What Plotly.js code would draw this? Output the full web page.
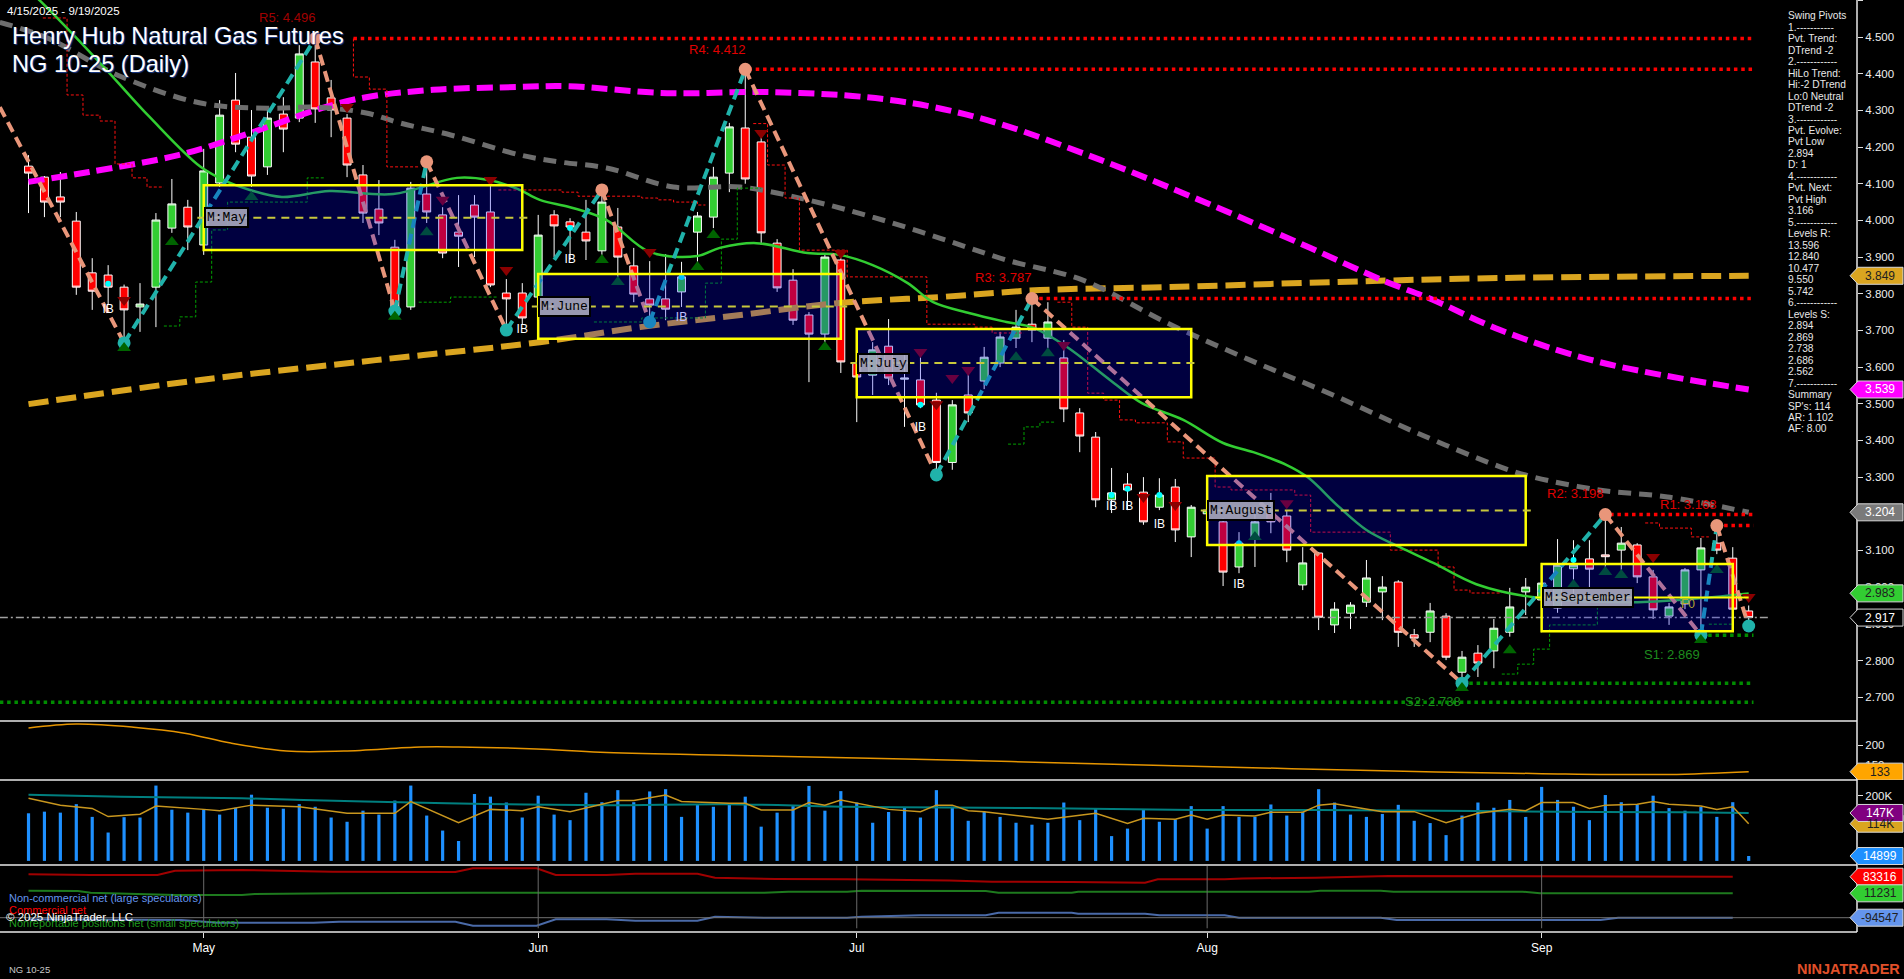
<!DOCTYPE html>
<html><head><meta charset="utf-8">
<script src="https://cdn.plot.ly/plotly-3.0.1.min.js"></script>
<style>html,body{margin:0;padding:0;background:#000;overflow:hidden}#chart{width:1904px;height:979px}</style>
</head><body><div id="chart"></div>
<script>
// ---------------- DATA ----------------
const monthTickIdx = [11, 32, 52, 74, 95];
const monthTickText = ['May', 'Jun', 'Jul', 'Aug', 'Sep'];

const openP = [4.148,4.118,4.064,3.998,3.857,3.851,3.818,3.764,3.818,3.979,
4.036,3.933,4.102,4.328,4.227,4.146,4.290,4.279,4.432,4.334,
4.279,4.124,4.031,3.927,3.764,4.072,4.015,3.968,4.042,4.023,
3.802,3.802,3.791,4.015,3.996,3.968,3.917,3.982,3.876,3.786,
3.786,3.805,3.968,4.009,4.129,4.252,4.214,3.938,3.837,3.742,
3.690,3.892,3.611,3.578,3.657,3.567,3.565,3.510,3.340,3.524,
3.562,3.611,3.679,3.717,3.679,3.625,3.475,3.409,3.238,3.281,
3.259,3.218,3.273,3.137,3.200,3.178,3.055,3.137,3.202,3.194,
3.006,3.093,2.897,2.929,2.959,2.987,3.014,2.870,2.877,2.921,
2.768,2.820,2.826,2.877,2.987,2.965,2.943,3.050,3.077,3.088,
3.101,3.115,3.028,2.921,2.954,3.047,3.120,3.079,2.935];
const highP = [4.178,4.121,4.132,4.023,3.897,3.878,3.825,3.829,4.020,4.113,
4.056,4.195,4.328,4.402,4.301,4.309,4.336,4.478,4.496,4.383,
4.290,4.151,4.110,3.947,4.105,4.160,4.036,4.069,4.069,4.118,
3.840,3.829,4.015,4.028,4.006,4.056,4.083,4.034,3.925,3.889,
3.908,3.887,4.023,4.146,4.266,4.412,4.227,3.949,3.867,3.750,
3.908,3.911,3.655,3.668,3.731,3.638,3.627,3.530,3.510,3.600,
3.655,3.696,3.756,3.787,3.777,3.674,3.488,3.423,3.325,3.311,
3.300,3.297,3.295,3.224,3.240,3.188,3.150,3.202,3.257,3.210,
3.109,3.096,2.959,2.959,3.074,3.030,3.019,2.886,2.957,2.929,
2.826,2.842,2.913,2.998,3.025,3.066,3.131,3.128,3.128,3.198,
3.164,3.120,3.047,2.957,3.052,3.134,3.168,3.109,2.950];
const lowP = [4.020,4.009,4.009,3.797,3.756,3.769,3.670,3.696,3.709,3.966,
3.919,3.906,4.091,4.186,4.091,4.124,4.186,4.268,4.266,4.227,
4.118,3.993,3.960,3.753,3.756,3.993,3.897,3.873,3.900,3.818,
3.701,3.715,3.769,3.900,3.892,3.892,3.906,3.846,3.777,3.723,
3.728,3.764,3.873,3.979,4.077,4.100,3.933,3.805,3.715,3.559,
3.655,3.584,3.450,3.524,3.551,3.437,3.488,3.306,3.320,3.450,
3.540,3.600,3.652,3.668,3.652,3.450,3.368,3.218,3.202,3.210,
3.170,3.210,3.123,3.082,3.170,3.003,3.038,3.055,3.147,3.068,
2.992,2.883,2.875,2.886,2.946,2.910,2.837,2.837,2.850,2.801,
2.738,2.755,2.779,2.865,2.924,2.877,2.930,2.970,3.000,3.047,
3.047,3.011,2.913,2.897,2.940,2.869,3.090,2.920,2.894];
const closeP = [4.129,4.050,4.050,3.818,3.807,3.818,3.756,3.772,4.001,4.045,
3.982,4.135,4.287,4.208,4.121,4.279,4.249,4.454,4.304,4.301,
4.151,4.020,3.993,3.764,4.088,4.023,3.911,3.957,4.009,3.824,
3.786,3.734,3.960,3.985,3.982,3.944,4.050,3.900,3.799,3.769,
3.758,3.846,4.012,4.118,4.255,4.113,3.966,3.816,3.728,3.690,
3.900,3.614,3.573,3.647,3.570,3.570,3.497,3.340,3.497,3.475,
3.627,3.682,3.709,3.701,3.723,3.486,3.412,3.238,3.257,3.265,
3.178,3.251,3.156,3.218,3.210,3.041,3.120,3.178,3.178,3.101,
3.066,2.918,2.940,2.951,3.025,3.000,2.877,2.861,2.935,2.809,
2.809,2.793,2.888,2.946,3.000,3.011,3.060,3.060,3.049,3.083,
3.120,3.028,2.938,2.946,3.047,3.107,3.101,2.940,2.917];

const volume = [146000,151000,148000,174000,135000,87000,134000,133000,231000,157000,
148000,158000,142000,163000,203000,163000,160000,174000,166000,133000,
120000,154000,142000,185000,231000,139000,93000,61000,205000,197000,
179000,133000,200000,142000,125000,209000,180000,217000,180000,213000,
220000,135000,172000,166000,176000,197000,105000,148000,168000,230000,
154000,214000,179000,117000,150000,164000,133000,217000,166000,123000,
151000,135000,117000,111000,117000,179000,125000,159000,76000,99000,
156000,120000,127000,168000,99000,168000,135000,135000,173000,139000,
151000,220000,179000,142000,135000,144000,172000,123000,116000,79000,
139000,179000,163000,187000,135000,227000,187000,166000,125000,202000,
180000,173000,200000,162000,154000,166000,135000,180000,14899];

// moving averages (bar index, price)
const maGreenIdx = [-1.8,0.7,4.5,7.6,10.8,12.5,13.9,15.9,18.9,22.9,26.9,28.9,30.7,32.1,34,36.3,39,42,43.4,45.7,48.9,50.9,53,55.2,56.8,59.1,61.4,63.1,65.2,67.9,69.9,72.5,75,76.9,79,80.3,82.3,84,86.1,88.2,90.9,94.4,100.7,104.9,108];
const maGreenVal = [4.70,4.60,4.429,4.282,4.146,4.105,4.083,4.064,4.080,4.072,4.116,4.110,4.086,4.056,4.036,4.001,3.914,3.903,3.925,3.938,3.911,3.906,3.878,3.829,3.777,3.747,3.723,3.707,3.655,3.565,3.502,3.456,3.393,3.368,3.333,3.300,3.218,3.156,3.109,3.066,3.008,2.973,2.959,2.970,2.983];
const maGrayIdx = [-1.8,1.2,5.6,10.8,15.0,18.1,21.2,23.3,26.5,30.9,33.4,36.3,40.5,44.7,48.9,53.0,57.2,61.4,66.2,71.5,76.7,81.9,87.2,92.4,94.5,98.6,102.9,108];
const maGrayVal = [4.54,4.497,4.396,4.320,4.306,4.309,4.293,4.266,4.233,4.178,4.159,4.143,4.091,4.091,4.056,4.009,3.952,3.892,3.837,3.720,3.619,3.524,3.420,3.328,3.300,3.265,3.246,3.204];
const maMagentaIdx = [0,3.8,9.4,13.9,18.4,21.2,25.4,30.9,33.8,40.1,46.4,52.6,56.8,61.0,67.3,73.5,79.8,85.0,88.2,92.4,98.6,108];
const maMagentaVal = [4.105,4.132,4.178,4.238,4.306,4.336,4.356,4.364,4.366,4.347,4.350,4.336,4.309,4.263,4.165,4.056,3.938,3.837,3.783,3.701,3.614,3.539];
const maOrangeIdx = [0,10.8,21.8,32.1,38.4,44.7,50.9,57.2,63.5,71.5,82,92.4,108];
const maOrangeVal = [3.499,3.565,3.619,3.668,3.709,3.742,3.775,3.791,3.810,3.818,3.832,3.843,3.849];

// swing pivots
const swingIdx = [-1.8,6,18,23,25,30,36,39,45,57,63,90,99,105,106,108];
const swingVal = [4.309,3.666,4.496,3.753,4.160,3.701,4.083,3.723,4.412,3.306,3.787,2.738,3.198,2.869,3.168,2.894];

// pivot levels
const levelName = ['R5','R4','R3','R2','R1','S1','S2','S3'];
const levelVal  = [4.496,4.412,3.787,3.198,3.168,2.869,2.738,2.686];
const levelFrom = [20.4,45.2,63,99.3,106,105,90,-1.8];

// monthly ranges
const boxName  = ['M:May','M:June','M:July','M:August','M:September'];
const boxStart = [11,32,52,74,95];
const boxEnd   = [31,51,73,94,107];
const boxHigh  = [4.096,3.854,3.704,3.303,3.063];
const boxLow   = [3.919,3.677,3.518,3.115,2.880];

// trailing stair lines
const redStairs = [
  {i:[0.9,2.42,3.42,4.49,5.43,6.5,7.44,8.5], v:[4.552,4.342,4.287,4.271,4.154,4.116,4.091,4.091]},
  {i:[20.4,20.4,21.4,22.5,24.6], v:[4.496,4.391,4.358,4.146,4.146]},
  {i:[29.5,33.5,34.5,38.5,39.5,40.5,42,42.5], v:[4.083,4.077,4.066,4.061,4.056,4.050,4.042,4.042]},
  {i:[45.5,46.4,47.5,48.4,51.4,56.4,59.4,60.5,62.5], v:[4.264,4.151,4.061,3.919,3.846,3.717,3.709,3.693,3.693]},
  {i:[64.6,65.5,66.5,67.5,68.5,69.5,71.5,72.5,74.5,75.5,79.5,80.5,85.5,88.5,89.5,90.5,92.5], v:[3.777,3.709,3.529,3.510,3.456,3.448,3.396,3.352,3.273,3.265,3.251,3.150,3.101,3.055,2.992,2.984,2.984]},
  {i:[101.5,102.4,104.4,105.5], v:[3.175,3.161,3.137,3.137]}
];
const greenStairs = [
  {i:[8.5,9.5,10.5,11.5,12.5,17.5,18.6], v:[3.712,3.737,3.832,3.974,4.050,4.116,4.116]},
  {i:[24.5,26.5,29.4], v:[3.777,3.791,3.791]},
  {i:[35.5,38.5,42.5,43.5,44.5,46], v:[3.723,3.734,3.829,3.949,4.088,4.088]},
  {i:[61.5,62.5,63.5,64.5], v:[3.390,3.437,3.450,3.450]},
  {i:[92.5,93.5,94.5,95.5,98.5,100.5], v:[2.763,2.790,2.831,2.897,2.946,2.954]},
  {i:[105.5,107], v:[2.899,2.899]}
];

// signal markers
const upTriIdx = [6,9,14,23,25,36,37,42,43,50,62,64,77,90,93,97,99,100,105,106];
const upTriVal = [3.652,3.941,4.064,3.737,3.968,3.892,3.832,3.873,3.960,3.655,3.627,3.638,3.137,2.725,2.828,3.006,3.041,3.033,2.856,3.047];
const dnTriIdx = [6,20,26,29,30,39,46,51,56,57,58,59,65,70,72,79,102,108];
const dnTriVal = [3.783,4.309,4.056,4.110,3.865,3.914,4.238,3.911,3.641,3.499,3.570,3.592,3.660,3.246,3.224,3.229,3.082,2.973];
const cyanIdx = [5,34,41,56,68,69,71,76,97];
const cyanVal = [3.827,3.979,3.846,3.497,3.251,3.268,3.251,3.120,3.074];
const ibIdx = [5,31,34,41,56,68,69,71,76];
const ibVal = [3.756,3.701,3.892,3.734,3.434,3.218,3.218,3.169,3.006];

// sub panel 1 (orange line)
const sub1Idx = [0,3,6.6,9.8,12.7,16.2,19.8,24.6,27,31.9,35.9,43,55,65,75,85,95,103,108];
const sub1Val = [243,253,245,230,205,185,185,195,195,190,182,175,165,155,145,135,128,126,133];

// volume panel lines
const volTealIdx = [0,5.8,13.4,21.1,28.7,36.3,43.8,51.4,57.8,65.5,73.1,80.8,88.4,96,103.7,108];
const volTealVal = [203000,197000,192000,182000,174500,171000,174000,166000,164000,161000,156000,156000,154000,151000,149000,147000];
const volAvgIdx = [0,2,4,5,7,8,11,12,14,17,20,23,24,27,29,31,32,34,37,38,40,41,44,45,46,48,49,50,51,53,54,56,57,58,59,60,64,67,69,70,72,73,74,75,77,78,80,81,82,85,87,89,91,93,94,95,97,98,99,101,102,103,105,106,107,108];
const volAvgVal = [192,171,161,136,143,168,158,154,171,166,146,146,182,117,158,154,166,151,185,185,202,182,177,177,156,156,179,171,187,168,158,151,171,171,154,151,128,146,115,131,128,141,128,141,138,149,149,171,175,151,151,117,146,158,154,179,179,161,171,174,182,174,168,158,166,114].map(v => v * 1000);

// COT panel
const cotRedIdx = [0,3.9,8.1,9.2,13.4,19.1,26.8,27.9,31.9,33.1,36.3,38.1,42,43.1,46.9,51.4,57.8,60.5,65.5,70.1,70.9,75.1,76.2,80.8,85.4,98,99.8,107];
const cotRedVal = [94000,90700,90700,109000,112000,105000,103700,119800,119800,90700,90700,96000,96000,79000,73000,72000,67000,61600,60000,57000,72000,72000,76000,79000,86000,86000,83300,83316];
const cotGreenIdx = [0,3.1,3.9,9.2,13.4,14.2,19.5,27.9,46.2,47.7,51.4,52.3,60.1,60.9,65.5,65.9,80.4,81.1,84.9,85.7,93.8,94.9,107];
const cotGreenVal = [22600,21300,13900,3900,3900,8200,11300,13900,13900,18200,18200,22600,21300,13900,13900,18200,18200,22600,22600,18200,18200,11231,11231];
const cotBlueIdx = [0,9.6,11.9,17.9,19.5,26.8,27.9,31.9,33.1,36.3,38.1,42,43.1,46.2,51.4,52.3,56,60.1,60.9,65.5,65.9,70.1,71,75.1,76,84.9,85.9,98.7,99.8,107];
const cotBlueVal = [-101500,-104500,-116000,-116000,-112000,-112000,-129000,-129000,-101500,-101500,-107600,-107600,-90000,-94500,-94500,-90000,-84000,-84000,-72900,-72900,-77000,-77000,-84000,-84000,-94500,-94500,-104500,-104500,-94547,-94547];

const pivotPanel = ['Swing Pivots','1.-----------','Pvt. Trend:','DTrend -2','2.------------','HiLo Trend:','Hi:-2 DTrend','Lo:0 Neutral','DTrend -2','3.------------','Pvt. Evolve:','Pvt Low','2.894','D: 1','4.------------','Pvt. Next:','Pvt High','3.166','5.------------','Levels R:','13.596','12.840','10.477','9.550','5.742','6.------------','Levels S:','2.894','2.869','2.738','2.686','2.562','7.------------','Summary',"SP's: 114",'AR: 1.102','AF: 8.00'];

// ---------------- LAYOUT / TRACES ----------------
const FONT = 'Liberation Sans, Arial, sans-serif';
const barIdx = openP.map((_, i) => i);
const last = a => a[a.length - 1];
const traces = [];

traces.push({type:'scatter', mode:'lines', x:maOrangeIdx, y:maOrangeVal, line:{color:'#daa520', width:6, dash:'20px,8px', shape:'spline'}, hoverinfo:'skip'});
traces.push({type:'scatter', mode:'lines', x:maMagentaIdx, y:maMagentaVal, line:{color:'#ff00ff', width:6, dash:'16px,7px', shape:'spline'}, hoverinfo:'skip'});
traces.push({type:'scatter', mode:'lines', x:maGrayIdx, y:maGrayVal, line:{color:'#6e6e6e', width:5, dash:'13px,8px', shape:'spline'}, hoverinfo:'skip'});

redStairs.forEach(s => traces.push({type:'scatter', mode:'lines', x:s.i, y:s.v, line:{color:'#ff1010', width:1, dash:'3px,2px', shape:'hv'}, hoverinfo:'skip'}));
greenStairs.forEach(s => traces.push({type:'scatter', mode:'lines', x:s.i, y:s.v, line:{color:'#00a000', width:1, dash:'3px,2px', shape:'hv'}, hoverinfo:'skip'}));

levelName.forEach((n, k) => {
  traces.push({type:'scatter', mode:'lines', x:[levelFrom[k], 108.3], y:[levelVal[k], levelVal[k]],
    line:{color: n[0] === 'R' ? '#ff0000' : '#008c00', width:3.5, dash:'3.5px,3.8px'}, hoverinfo:'skip'});
});
traces.push({type:'scatter', mode:'lines', x:[-1.8, 109.3], y:[last(closeP), last(closeP)], line:{color:'#a0a0a0', width:1.5, dash:'8px,3px,2px,3px'}, hoverinfo:'skip'});

traces.push({type:'candlestick', x:barIdx, open:openP, high:highP, low:lowP, close:closeP,
  increasing:{line:{color:'#ffffff', width:1}, fillcolor:'#32cd32'},
  decreasing:{line:{color:'#ffffff', width:1}, fillcolor:'#ff0000'},
  whiskerwidth:0, hoverinfo:'skip', showlegend:false});

traces.push({type:'scatter', mode:'lines', x:maGreenIdx, y:maGreenVal, line:{color:'#32cd32', width:2.5, shape:'spline'}, hoverinfo:'skip'});

for (let k = 0; k < swingIdx.length - 1; k++) {
  const up = swingVal[k + 1] > swingVal[k];
  traces.push({type:'scatter', mode:'lines', x:[swingIdx[k], swingIdx[k + 1]], y:[swingVal[k], swingVal[k + 1]],
    line:{color: up ? '#20b2aa' : '#e9967a', width:4, dash:'11px,6px'}, hoverinfo:'skip'});
}
const pivX = swingIdx.slice(1), pivY = swingVal.slice(1);
const pivC = pivY.map((v, k) => v > swingVal[k] ? '#e9967a' : '#20b2aa');
traces.push({type:'scatter', mode:'markers', x:pivX, y:pivY, marker:{color:pivC, size:13}, hoverinfo:'skip'});

traces.push({type:'scatter', mode:'markers', x:upTriIdx, y:upTriVal, marker:{symbol:'triangle-up', color:'#006400', size:12}, hoverinfo:'skip'});
traces.push({type:'scatter', mode:'markers', x:dnTriIdx, y:dnTriVal, marker:{symbol:'triangle-down', color:'#8b0000', size:12}, hoverinfo:'skip'});
traces.push({type:'scatter', mode:'markers', x:cyanIdx, y:cyanVal, marker:{color:'#00ffff', size:6}, hoverinfo:'skip'});
traces.push({type:'scatter', mode:'text', x:ibIdx, y:ibVal, text:ibIdx.map(() => 'IB'), textfont:{color:'#ffffff', size:12, family:FONT}, hoverinfo:'skip'});

traces.push({type:'scatter', mode:'lines', x:sub1Idx, y:sub1Val, yaxis:'y2', line:{color:'#e69500', width:1.5, shape:'spline'}, hoverinfo:'skip'});

traces.push({type:'bar', x:barIdx, y:volume, yaxis:'y3', width:0.2, marker:{color:'#1e90ff', line:{width:0}}, hoverinfo:'skip'});
traces.push({type:'scatter', mode:'lines', x:volTealIdx, y:volTealVal, yaxis:'y3', line:{color:'#007f7f', width:2, shape:'spline'}, hoverinfo:'skip'});
traces.push({type:'scatter', mode:'lines', x:volAvgIdx, y:volAvgVal, yaxis:'y3', line:{color:'#c8961e', width:1.5}, hoverinfo:'skip'});

traces.push({type:'scatter', mode:'lines', x:cotRedIdx, y:cotRedVal, yaxis:'y4', line:{color:'#a00000', width:2}, hoverinfo:'skip'});
traces.push({type:'scatter', mode:'lines', x:cotGreenIdx, y:cotGreenVal, yaxis:'y4', line:{color:'#1e7a1e', width:2}, hoverinfo:'skip'});
traces.push({type:'scatter', mode:'lines', x:cotBlueIdx, y:cotBlueVal, yaxis:'y4', line:{color:'#4a6aa8', width:2}, hoverinfo:'skip'});

// ---------------- SHAPES ----------------
const shapes = [];
boxName.forEach((n, k) => {
  const mid = (boxHigh[k] + boxLow[k]) / 2;
  const isLast = k === boxName.length - 1;
  shapes.push({type:'rect', xref:'x', yref:'y', x0:boxStart[k], x1:boxEnd[k], y0:boxLow[k], y1:boxHigh[k],
    fillcolor:'rgba(0,0,255,0.25)', line:{color:'#ffff00', width:2.5}, layer:'above'});
  shapes.push({type:'line', xref:'x', yref:'y', x0:boxStart[k] - 0.4, x1:isLast ? boxEnd[k] + 1 : boxEnd[k] + 0.4, y0:mid, y1:mid,
    line:{color: isLast ? '#ffff00' : '#c8c83c', width:2, dash: isLast ? 'solid' : '8px,6px'}, layer:'above'});
});
shapes.push({type:'line', xref:'paper', yref:'y4', x0:0, x1:1, y0:last(cotBlueVal), y1:last(cotBlueVal), line:{color:'#707070', width:1}});
monthTickIdx.forEach(m => shapes.push({type:'line', xref:'x', yref:'paper', x0:m, x1:m, y0:0.004, y1:0.0708, line:{color:'#6a6a6a', width:1}}));
[0.2264, 0.1631, 0.0719, 0].forEach(p => shapes.push({type:'line', xref:'paper', yref:'paper', x0:0, x1:1, y0:p, y1:p, line:{color:'#e8e8e8', width:1.5}, layer:'above'}));
shapes.push({type:'line', xref:'paper', yref:'paper', x0:1, x1:1, y0:0, y1:1, line:{color:'#e8e8e8', width:1.5}, layer:'above'});

// ---------------- ANNOTATIONS ----------------
const ann = [];
const pxY = py => (932 - py) / 932;
const pxX = px => px / 1857;
ann.push({xref:'paper', yref:'paper', x:pxX(5), y:pxY(11), xanchor:'left', yanchor:'middle', text:'4/15/2025 - 9/19/2025', showarrow:false, font:{family:FONT, size:11.5, color:'#ffffff'}});
ann.push({xref:'paper', yref:'paper', x:pxX(10), y:pxY(36), xanchor:'left', yanchor:'middle', text:'Henry Hub Natural Gas Futures', showarrow:false, font:{family:FONT, size:23.6, color:'#ffffff', shadow:'1px 1px 1px #1a3c8c'}});
ann.push({xref:'paper', yref:'paper', x:pxX(10), y:pxY(64), xanchor:'left', yanchor:'middle', text:'NG 10-25 (Daily)', showarrow:false, font:{family:FONT, size:23.6, color:'#ffffff', shadow:'1px 1px 1px #1a3c8c'}});
pivotPanel.forEach((t, k) => ann.push({xref:'paper', yref:'paper', x:pxX(1786), y:pxY(15.7 + k * 11.48), xanchor:'left', yanchor:'middle', text:t, showarrow:false, font:{family:FONT, size:10.2, color:'#e8e8e8'}}));

const levelLabelPos = {R5:[16.2,4.553,'#a00000'], R4:[43.2,4.467,'#e00000'], R3:[61.2,3.844,'#e00000'], R2:[97.1,3.254,'#e00000'], R1:[104.2,3.225,'#e00000'], S1:[103.2,2.817,'#1e8c1e'], S2:[88.2,2.688,'#1e8c1e']};
levelName.forEach((n, k) => {
  const p = levelLabelPos[n]; if (!p) return;
  ann.push({xref:'x', yref:'y', x:p[0], y:p[1], text:n + ': ' + levelVal[k].toFixed(3), showarrow:false, font:{family:FONT, size:13, color:p[2]}});
});
boxName.forEach((n, k) => ann.push({xref:'x', yref:'y', x:boxStart[k], y:(boxHigh[k] + boxLow[k]) / 2, xanchor:'left', yanchor:'middle', text:n, showarrow:false,
  font:{family:'Liberation Mono, Courier New, monospace', size:13, color:'#000000'}, bgcolor:'rgba(170,170,190,0.9)', bordercolor:'#000000', borderwidth:2, borderpad:1}));
ann.push({xref:'x', yref:'y', x:104.2, y:2.955, text:'F0', showarrow:false, font:{family:FONT, size:12, color:'#b8a830'}});

[['Non-commercial net (large speculators)', '#6495ed', 897.5], ['Commercial net', '#ff0000', 910], ['Nonreportable positions net (small speculators)', '#1e9a1e', 922.5]].forEach(r =>
  ann.push({xref:'paper', yref:'paper', x:pxX(7), y:pxY(r[2]), xanchor:'left', yanchor:'middle', text:r[0], showarrow:false, font:{family:FONT, size:11, color:r[1]}}));
ann.push({xref:'paper', yref:'paper', x:pxX(4), y:pxY(916.5), xanchor:'left', yanchor:'middle', text:'© 2025 NinjaTrader, LLC', showarrow:false, font:{family:FONT, size:11.5, color:'#ffffff'}});
ann.push({xref:'paper', yref:'paper', x:pxX(7), y:pxY(969), xanchor:'left', yanchor:'middle', text:'NG 10-25', showarrow:false, font:{family:FONT, size:9.5, color:'#c8c8c8'}});
ann.push({xref:'paper', yref:'paper', x:pxX(1902), y:pxY(968.5), xanchor:'right', yanchor:'middle', text:'<b>NINJATRADER</b>', showarrow:false, font:{family:FONT, size:14.5, color:'#e0502a'}});

function tag(yref, value, text, bg, fg) {
  shapes.push({type:'path', xref:'paper', xsizemode:'pixel', xanchor:1, yref:yref, ysizemode:'pixel', yanchor:value,
    path:'M -7 0 L 1 8.5 L 46 8.5 L 46 -8.5 L 1 -8.5 Z', fillcolor:bg, line:{color:'#d8d8d8', width:1}, layer:'above'});
  ann.push({xref:'paper', x:1, xanchor:'center', xshift:23, yref:yref, y:value, yanchor:'middle', text:text, showarrow:false, font:{family:FONT, size:12, color:fg}});
}
tag('y', last(maOrangeVal), last(maOrangeVal).toFixed(3), '#daa520', '#202020');
tag('y', last(maMagentaVal), last(maMagentaVal).toFixed(3), '#ff00ff', '#ffffff');
tag('y', last(maGrayVal), last(maGrayVal).toFixed(3), '#7a7a7a', '#ffffff');
tag('y', last(maGreenVal), last(maGreenVal).toFixed(3), '#32cd32', '#202020');
tag('y', last(closeP), last(closeP).toFixed(3), '#000000', '#ffffff');
tag('y2', last(sub1Val), String(last(sub1Val)), '#ffa500', '#202020');
tag('y3', last(volAvgVal), Math.round(last(volAvgVal) / 1000) + 'K', '#daa520', '#202020');
tag('y3', last(volTealVal), Math.round(last(volTealVal) / 1000) + 'K', '#800080', '#ffffff');
tag('y3', last(volume), String(last(volume)), '#1e90ff', '#ffffff');
tag('y4', last(cotRedVal), String(last(cotRedVal)), '#ff0000', '#ffffff');
tag('y4', last(cotGreenVal), String(last(cotGreenVal)), '#32cd32', '#202020');
tag('y4', last(cotBlueVal), String(last(cotBlueVal)), '#6495ed', '#202020');

const yBase = {side:'right', anchor:'x', showgrid:false, zeroline:false, ticks:'outside', ticklen:5, tickcolor:'#e0e0e0', tickwidth:1,
  tickfont:{family:FONT, size:11.5, color:'#eeeeee'}, showline:false, fixedrange:true};
const layout = {
  width:1904, height:979, margin:{l:0, r:47, t:0, b:47},
  paper_bgcolor:'#000000', plot_bgcolor:'#000000', showlegend:false, boxgap:0.29, boxgroupgap:0.3,
  xaxis:{anchor:'y4', range:[-1.79, 114.8], showgrid:false, zeroline:false, tickvals:monthTickIdx, ticktext:monthTickText,
    ticks:'outside', ticklen:5, tickcolor:'#e0e0e0', tickfont:{family:FONT, size:12, color:'#ffffff'}, rangeslider:{visible:false}, showline:false},
  yaxis:Object.assign({}, yBase, {domain:[0.2264, 1], range:[2.635, 4.601], dtick:0.1, tick0:2.7, tickformat:'.3f'}),
  yaxis2:Object.assign({}, yBase, {domain:[0.1631, 0.2253], range:[112, 258], tickvals:[150, 200]}),
  yaxis3:Object.assign({}, yBase, {domain:[0.0719, 0.162], range:[-12600, 245000], tickvals:[100000, 200000], ticktext:['100K', '200K']}),
  yaxis4:Object.assign({}, yBase, {domain:[0, 0.0708], range:[-156600, 129700], showticklabels:false, ticks:''}),
  shapes:shapes, annotations:ann
};
Plotly.newPlot('chart', traces, layout, {displayModeBar:false, staticPlot:true});
</script></body></html>
